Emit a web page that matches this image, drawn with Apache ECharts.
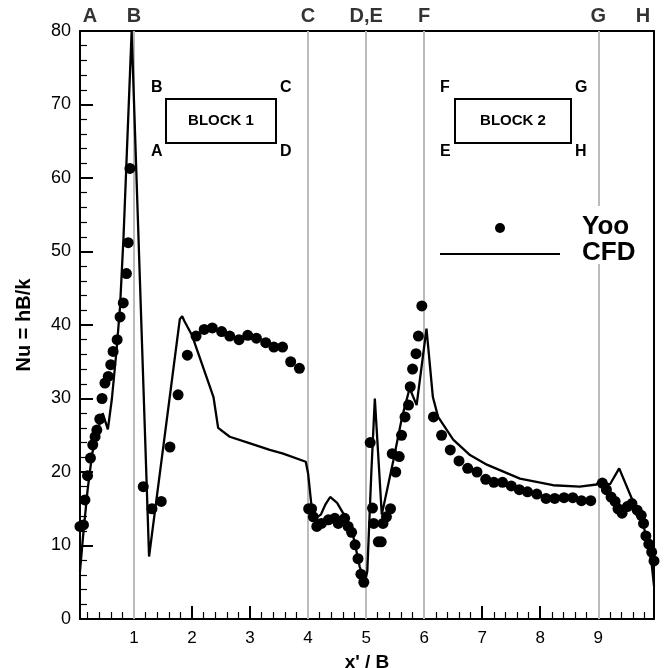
<!DOCTYPE html>
<html><head><meta charset="utf-8">
<script src="https://cdn.jsdelivr.net/npm/echarts@6/dist/echarts.min.js"></script>
<style>html,body{margin:0;padding:0;background:#fff}#c{width:664px;height:668px}</style>
</head><body><div id="c"></div>
<script>
// Yoo experimental data
const yooX = [0.07,0.13,0.155,0.20,0.25,0.29,0.33,0.36,0.41,0.45,0.50,0.557,0.60,0.64,0.71,0.76,0.815,0.87,0.90,0.93,
  1.16,1.31,1.47,1.62,1.76,1.92,2.07,2.21,2.35,2.51,2.65,2.81,2.96,3.11,3.27,3.41,3.56,3.70,3.85,
  4.01,4.06,4.09,4.15,4.23,4.35,4.46,4.52,4.63,4.69,4.75,4.81,4.86,4.91,4.96,
  5.07,5.11,5.13,5.21,5.26,5.29,5.35,5.42,5.45,5.51,5.57,5.61,5.67,5.73,5.76,5.80,5.86,5.90,5.96,
  6.16,6.30,6.45,6.60,6.75,6.91,7.06,7.20,7.35,7.50,7.64,7.78,7.94,8.10,8.25,8.41,8.56,8.71,8.87,
  9.07,9.14,9.22,9.29,9.34,9.41,9.50,9.58,9.67,9.74,9.78,9.82,9.87,9.92,9.96];
const yooY = [12.6,12.8,16.2,19.5,21.9,23.7,24.8,25.7,27.2,30.0,32.1,33.0,34.6,36.4,38.0,41.1,43.0,47.0,51.2,61.3,
  18.0,15.0,16.0,23.4,30.5,35.9,38.5,39.4,39.6,39.1,38.5,38.0,38.6,38.2,37.6,37.0,37.0,35.0,34.1,
  15.0,15.0,13.9,12.6,13.0,13.5,13.7,13.0,13.7,12.6,11.8,10.1,8.2,6.1,5.0,
  24.0,15.1,13.0,10.5,10.5,13.0,13.9,15.0,22.5,20.0,22.1,25.0,27.5,29.1,31.6,34.0,36.1,38.5,42.6,
  27.5,25.0,23.0,21.5,20.5,20.0,19.0,18.6,18.6,18.1,17.6,17.3,17.0,16.4,16.4,16.5,16.5,16.1,16.1,
  18.5,17.6,16.6,16.0,15.0,14.4,15.3,15.7,14.8,14.1,13.0,11.3,10.2,9.1,7.9];
// CFD prediction
const cfdX = [0.07,0.12,0.20,0.28,0.37,0.46,0.55,0.62,0.70,0.76,0.82,0.87,0.96,1.26,1.79,1.83,1.87,2.00,2.30,2.37,2.45,2.65,3.00,3.34,3.57,3.96,
  4.00,4.07,4.10,4.22,4.30,4.38,4.50,4.61,4.70,4.78,4.89,4.98,5.02,5.09,5.15,5.27,5.47,5.62,5.75,5.87,6.04,
  6.15,6.24,6.50,6.79,7.08,7.65,8.22,8.68,8.97,9.02,9.20,9.36,9.55,9.65,9.75,9.85,9.92,9.96];
const cfdY = [6.5,11.0,17.5,22.5,25.5,28.0,25.8,30.0,36.6,42.5,52.0,62.0,80.0,8.5,40.8,41.2,40.5,38.6,31.8,30.2,26.0,24.8,23.9,23.0,22.5,21.4,
  19.8,14.5,13.6,14.2,15.6,16.6,15.8,14.3,12.8,11.2,7.1,5.0,6.5,20.0,30.0,14.2,21.6,27.5,31.4,29.1,39.5,
  30.2,27.5,24.4,22.3,21.0,19.1,18.2,18.0,18.3,18.8,18.3,20.5,16.9,15.0,13.5,10.5,7.5,4.5];
const dividerX = [1,4,5,6,9];
const stationNames = ['A','B','C','D,E','F','G','H'];
const stationX = [0.24,1,4,5,6,9,9.77];
const xMin = 0.07, xMax = 9.96, yMin = 0, yMax = 80;

const FONT = '"Liberation Sans", Arial, sans-serif';
const chart = echarts.init(document.getElementById('c'), null, {renderer:'canvas'});

const yooData = yooX.map((x,i)=>[x,yooY[i]]);
const cfdData = cfdX.map((x,i)=>[x,cfdY[i]]);
const stationData = stationX.map((x,i)=>({value:[x,yMax], name:stationNames[i]}));

function blockGraphic(x, y, w, h, title, tl, tr, bl, br){
  const lbl = (t, lx, ly) => ({type:'text', left:lx, top:ly, style:{text:t, font:'bold 16px '+FONT, fill:'#000'}});
  return [
    {type:'rect', shape:{x:x, y:y, width:w, height:h}, style:{fill:'#fff', stroke:'#000', lineWidth:2}},
    {type:'text', x:x+w/2, y:y+h/2, style:{text:title, font:'bold 15px '+FONT, fill:'#000', align:'center', verticalAlign:'middle'}},
    lbl(tl, x-15, y-19), lbl(tr, x+w+4, y-19), lbl(bl, x-15, y+h+1), lbl(br, x+w+4, y+h+1)
  ];
}

const option = {
  backgroundColor:'#fff',
  animation:false,
  grid:{left:80, right:10, top:31, bottom:49, containLabel:false, outerBoundsMode:'none'},
  xAxis:[{
    type:'value', min:xMin, max:xMax, splitNumber:10,
    name:"x' / B", nameLocation:'middle', nameGap:34,
    nameTextStyle:{fontFamily:FONT, fontWeight:'bold', fontSize:19, color:'#000'},
    axisLine:{show:true, onZero:false, lineStyle:{color:'#000', width:2}},
    axisTick:{show:true, inside:true, length:13, lineStyle:{color:'#000', width:2}},
    minorTick:{show:true, splitNumber:5, length:7, lineStyle:{color:'#000', width:1.2}},
    axisLabel:{margin:11, fontFamily:FONT, fontSize:17, color:'#000',
      formatter:v => (Math.abs(v-Math.round(v))<1e-6 ? String(Math.round(v)) : '')},
    splitLine:{show:false}
  },{
    type:'value', position:'top', min:xMin, max:xMax,
    axisLine:{show:true, onZero:false, lineStyle:{color:'#000', width:2}},
    axisTick:{show:false}, axisLabel:{show:false}, splitLine:{show:false}
  }],
  yAxis:[{
    type:'value', min:yMin, max:yMax, interval:10,
    name:'Nu = hB/k', nameLocation:'middle', nameGap:46, nameRotate:90,
    nameTextStyle:{fontFamily:FONT, fontWeight:'bold', fontSize:20, color:'#000'},
    axisLine:{show:true, onZero:false, lineStyle:{color:'#000', width:2}},
    axisTick:{show:true, inside:true, length:13, lineStyle:{color:'#000', width:2}},
    minorTick:{show:true, splitNumber:5, length:7, lineStyle:{color:'#000', width:1.2}},
    axisLabel:{margin:9, fontFamily:FONT, fontSize:18, color:'#000'},
    splitLine:{show:false}
  },{
    type:'value', position:'right', min:yMin, max:yMax,
    axisLine:{show:true, onZero:false, lineStyle:{color:'#000', width:2}},
    axisTick:{show:false}, axisLabel:{show:false}, splitLine:{show:false}
  }],
  series:[
    {
      name:'CFD', type:'line', data:cfdData, showSymbol:false, symbol:'none', z:3,
      lineStyle:{color:'#000', width:2.3}, clip:true,
      markLine:{silent:true, symbol:'none', label:{show:false}, z:1,
        lineStyle:{color:'#bcbcbc', width:2, type:'solid'},
        data:dividerX.map(x=>({xAxis:x}))}
    },
    {
      name:'Yoo', type:'scatter', data:yooData, symbol:'circle', symbolSize:11, z:4,
      itemStyle:{color:'#000', opacity:1}, clip:true
    },
    {
      name:'stations', type:'scatter', data:stationData, symbolSize:0, clip:false, silent:true,
      label:{show:true, position:'top', distance:5, formatter:p=>p.name,
        fontFamily:FONT, fontWeight:'bold', fontSize:20, color:'#000'}
    }
  ],
  graphic:[
    ...blockGraphic(166, 99, 110, 44, 'BLOCK 1', 'B', 'C', 'A', 'D'),
    ...blockGraphic(455, 99, 116, 44, 'BLOCK 2', 'F', 'G', 'E', 'H'),
    {type:'rect', shape:{x:578, y:206, width:62, height:58}, style:{fill:'#fff'}, z:10},
    {type:'circle', shape:{cx:500, cy:228, r:5}, style:{fill:'#000'}, z:11},
    {type:'line', shape:{x1:440, y1:254, x2:560, y2:254}, style:{stroke:'#000', lineWidth:2}, z:11},
    {type:'text', left:582, top:214, style:{text:'Yoo', font:'bold 26px '+FONT, fill:'#000'}, z:11},
    {type:'text', left:582, top:240, style:{text:'CFD', font:'bold 26px '+FONT, fill:'#000'}, z:11}
  ]
};
chart.setOption(option);
</script>
</body></html>
